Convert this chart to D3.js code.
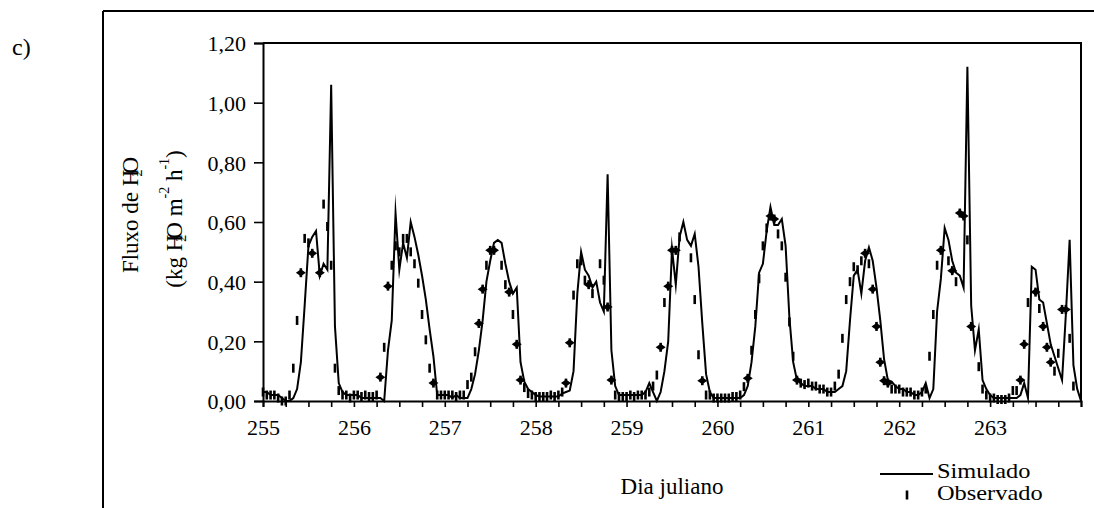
<!DOCTYPE html>
<html>
<head>
<meta charset="utf-8">
<script src="https://cdn.jsdelivr.net/npm/d3@7"></script>
<style>
  html, body { margin: 0; padding: 0; background: #fff; }
</style>
</head>
<body>
<svg id="chart" width="1094" height="508" font-family="'Liberation Serif'"></svg>
<script>
// dias julianos no eixo x e marcas do eixo y
const dias = [255, 256, 257, 258, 259, 260, 261, 262, 263];
const yTicks = [0, 0.2, 0.4, 0.6, 0.8, 1.0, 1.2];

// fluxo simulado, um valor por hora (dia 255 h0 ... dia 264 h0)
const simulado = [
  0.03,0.03,0.02,0.02,0.02,0.01,0.00,0.00,0.01,0.04,0.13,0.32,0.52,0.55,0.57,0.42,0.46,0.44,1.06,0.25,0.06,0.03,0.02,0.02,
  0.02,0.02,0.01,0.01,0.01,0.01,0.01,0.01,0.00,0.17,0.27,0.63,0.44,0.53,0.48,0.60,0.55,0.49,0.42,0.34,0.24,0.15,0.02,0.02,
  0.02,0.02,0.01,0.02,0.01,0.01,0.01,0.04,0.09,0.17,0.27,0.40,0.47,0.53,0.54,0.53,0.46,0.40,0.36,0.38,0.13,0.065,0.04,0.03,
  0.02,0.015,0.015,0.015,0.015,0.015,0.015,0.025,0.03,0.035,0.10,0.36,0.50,0.44,0.42,0.38,0.40,0.33,0.30,0.76,0.17,0.05,0.02,0.02,
  0.02,0.02,0.02,0.02,0.02,0.03,0.06,0.03,0.00,0.03,0.10,0.20,0.51,0.39,0.55,0.60,0.54,0.52,0.56,0.45,0.26,0.09,0.03,0.01,
  0.01,0.01,0.01,0.01,0.01,0.01,0.01,0.02,0.05,0.13,0.25,0.43,0.46,0.57,0.65,0.59,0.59,0.61,0.52,0.28,0.13,0.07,0.06,0.05,
  0.05,0.05,0.04,0.04,0.04,0.03,0.03,0.03,0.04,0.05,0.10,0.27,0.42,0.44,0.36,0.47,0.515,0.47,0.38,0.27,0.14,0.07,0.065,0.05,
  0.04,0.04,0.03,0.03,0.02,0.02,0.03,0.06,0.01,0.04,0.30,0.41,0.58,0.54,0.47,0.43,0.42,0.38,1.12,0.32,0.17,0.24,0.07,0.04,
  0.02,0.01,0.01,0.01,0.01,0.01,0.01,0.01,0.02,0.06,0.01,0.45,0.44,0.34,0.33,0.26,0.19,0.15,0.11,0.07,0.29,0.54,0.12,0.04,0.00
];

// fluxo observado, mesma grade horaria (null = sem ponto)
const observado = [
  0.03,0.02,0.02,0.02,0.01,0.00,0.00,0.02,0.11,0.27,0.43,0.545,0.53,0.495,null,0.43,0.66,0.585,0.455,0.11,0.035,0.02,0.02,0.01,
  0.02,0.02,0.015,0.02,0.015,0.015,0.02,0.08,0.18,0.385,0.455,0.52,0.50,0.545,0.545,0.50,0.46,0.395,0.29,0.205,0.11,0.06,0.02,0.02,
  0.02,0.02,0.02,0.015,0.02,0.02,0.055,0.08,0.165,0.26,0.375,0.455,0.505,0.505,null,0.455,0.39,0.365,0.29,0.19,0.07,0.045,0.025,0.02,
  0.015,0.015,0.015,0.015,0.02,0.015,0.02,0.03,0.06,0.195,0.355,0.46,0.47,0.405,0.39,0.36,null,0.46,0.405,0.315,0.07,0.02,0.015,0.015,
  0.015,0.02,0.015,0.02,0.02,0.02,0.03,0.05,0.087,0.18,0.33,0.385,0.505,0.505,0.55,null,null,0.48,0.34,0.155,0.068,0.02,0.02,0.01,
  0.01,0.01,0.01,0.01,0.015,0.015,0.02,0.048,0.076,0.17,0.29,0.41,0.52,0.58,0.62,0.61,0.56,0.52,0.415,0.265,0.15,0.07,0.06,0.055,
  0.06,0.05,0.05,0.04,0.04,0.03,0.03,0.05,0.09,0.21,0.34,0.40,0.45,0.44,0.47,0.495,0.46,0.375,0.25,0.13,0.068,0.06,0.04,0.04,
  0.04,0.03,0.03,0.03,0.02,0.02,0.03,0.04,0.15,0.29,0.455,0.505,null,0.47,0.437,0.40,0.63,0.62,0.54,0.25,null,0.115,0.04,0.02,
  0.01,0.01,0.005,0.005,0.005,0.01,0.035,0.035,0.07,0.19,0.33,null,0.365,0.31,0.25,0.18,0.13,0.10,0.16,0.307,0.307,0.21,0.05,null,null
];

// horas em que o ponto observado aparece como losango
const losangos = [10,13,15, 31,33,45, 57,58,60,61,65,67,68, 80,81,86,91,92,
  105,107,108,109,116, 128,134,135,141, 159,161,162,163,164,165,
  179,182,184,185,187, 200,201,204,206,207,208,211,212];

const fonte = "'Liberation Serif'";

// aplica a fonte serifada e o tamanho a um texto
const serif = (sel, size) => sel.style("font-family", fonte).style("font-size", size + "px")
                               .attr("font-family", fonte).attr("fill", "#000");

const svg = d3.select("#chart");

const plot = { left: 263, right: 1081, top: 43, bottom: 401 };

const x = d3.scaleLinear().domain([255, 264]).range([plot.left, plot.right]);
const y = d3.scaleLinear().domain([0, 1.2]).range([plot.bottom, plot.top]);

const hora = i => 255 + i / 24;

// moldura externa (so topo e lado esquerdo aparecem)
svg.append("line").attr("x1", 103).attr("y1", 11).attr("x2", 1094).attr("y2", 11)
   .attr("stroke", "#000").attr("stroke-width", 2);
svg.append("line").attr("x1", 103).attr("y1", 11).attr("x2", 103).attr("y2", 508)
   .attr("stroke", "#000").attr("stroke-width", 2);

serif(svg.append("text"), 24).attr("x", 12).attr("y", 55).text("c)");

// caixa da area do grafico
svg.append("path")
   .attr("d", `M${plot.left},${plot.top}H${plot.right}V${plot.bottom}`)
   .attr("fill", "none").attr("stroke", "#000").attr("stroke-width", 2);

// eixo y
const yAxis = svg.append("g")
   .attr("transform", `translate(${plot.left},0)`)
   .call(d3.axisLeft(y).tickValues(yTicks).tickSize(9).tickPadding(8)
         .tickFormat(d => d.toFixed(2).replace(".", ",")));

// eixo x: marca a cada 6 h, rotulo nos dias inteiros
const quartos = d3.range(0, 37).map(k => 255 + k * 0.25);
const xAxis = svg.append("g")
   .attr("transform", `translate(0,${plot.bottom})`)
   .call(d3.axisBottom(x).tickValues(quartos).tickSize(6).tickPadding(14)
         .tickFormat(d => dias.includes(d) ? d : ""));

[yAxis, xAxis].forEach(ax => {
  ax.attr("font-family", fonte).attr("font-size", 22);
  ax.select(".domain").attr("stroke", "#000").attr("stroke-width", 2);
  ax.selectAll(".tick line").attr("stroke", "#000").attr("stroke-width", 1.6);
  serif(ax.selectAll(".tick text"), 22);
});
yAxis.selectAll(".tick text").attr("dy", "0.36em");
xAxis.selectAll(".tick text").attr("dy", "0.62em");

// linha simulada
const linha = d3.line().x((d, i) => x(hora(i))).y(d => y(d));
svg.append("path")
   .datum(simulado)
   .attr("d", linha)
   .attr("fill", "none")
   .attr("stroke", "#000")
   .attr("stroke-width", 2)
   .attr("stroke-linejoin", "miter")
   .attr("stroke-miterlimit", 20);

// pontos observados
const pontos = observado.map((v, i) => ({ i, v })).filter(p => p.v !== null);
const losSet = new Set(losangos);

svg.append("g").selectAll("rect")
   .data(pontos)
   .join("rect")
   .attr("x", p => x(hora(p.i)) - 1.3)
   .attr("y", p => y(p.v) - 4.5)
   .attr("width", 2.6)
   .attr("height", 9)
   .attr("fill", "#000");

svg.append("g").selectAll("path")
   .data(pontos.filter(p => losSet.has(p.i)))
   .join("path")
   .attr("transform", p => `translate(${x(hora(p.i))},${y(p.v)})`)
   .attr("d", "M-5,0L0,-3.5L5,0L0,3.5Z")
   .attr("fill", "#000");

// titulo do eixo y
const t1 = serif(svg.append("text"), 23)
   .attr("transform", "translate(138,215) rotate(-90)")
   .attr("text-anchor", "middle");
t1.append("tspan").text("Fluxo de H");
t1.append("tspan").attr("dx", -7).attr("dy", 4).style("font-size", "14px").text("2");
t1.append("tspan").attr("dx", -4).attr("dy", -4).text("O");

const t2 = serif(svg.append("text"), 23)
   .attr("transform", "translate(181.5,219) rotate(-90)")
   .attr("text-anchor", "middle");
t2.append("tspan").text("(kg H");
t2.append("tspan").attr("dx", -7).attr("dy", 4).style("font-size", "14px").text("2");
t2.append("tspan").attr("dx", -4).attr("dy", -4).text("O m");
t2.append("tspan").attr("dy", -13).style("font-size", "14px").text("-2");
t2.append("tspan").attr("dy", 13).text(" h");
t2.append("tspan").attr("dy", -13).style("font-size", "14px").text("-1");
t2.append("tspan").attr("dy", 13).text(")");

// titulo do eixo x
serif(svg.append("text"), 23)
   .attr("x", (plot.left + plot.right) / 2)
   .attr("y", 494)
   .attr("text-anchor", "middle")
   .text("Dia juliano");

// legenda
const leg = svg.append("g");
leg.append("line").attr("x1", 880).attr("x2", 933).attr("y1", 474).attr("y2", 474)
   .attr("stroke", "#000").attr("stroke-width", 2);
leg.append("rect").attr("x", 907 - 1.3).attr("y", 495 - 4.5).attr("width", 2.6).attr("height", 9)
   .attr("fill", "#000");
serif(leg.append("text"), 20).attr("transform", "translate(937,478) scale(1.22,1)").text("Simulado");
serif(leg.append("text"), 20).attr("transform", "translate(937,500) scale(1.22,1)").text("Observado");
</script>
</body>
</html>
